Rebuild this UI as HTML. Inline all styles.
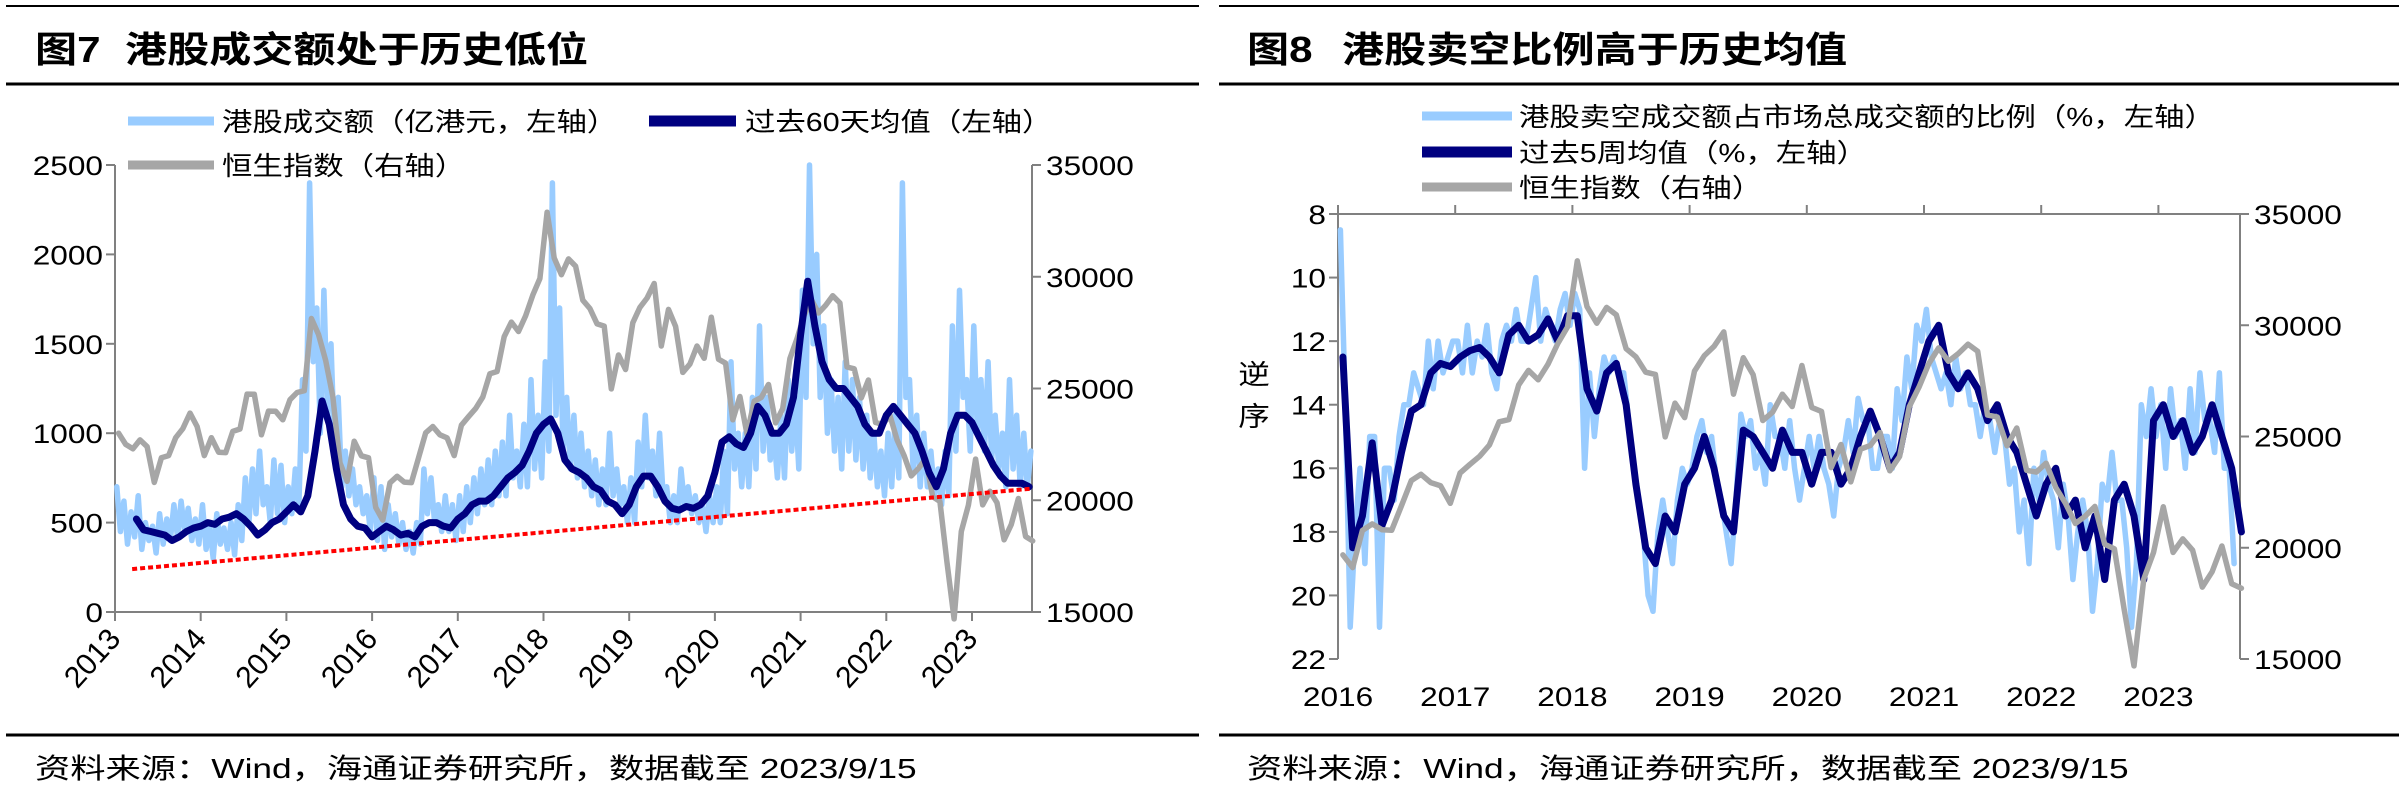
<!DOCTYPE html>
<html><head><meta charset="utf-8">
<style>
html,body{margin:0;padding:0;background:#fff;}
svg{display:block;font-family:"Liberation Sans","Noto Sans CJK SC",sans-serif;}
</style></head>
<body>
<svg id="root" width="2399" height="786" viewBox="0 0 2399 786" xmlns="http://www.w3.org/2000/svg">
  <g id="fig7"></g>
  <g id="fig8"></g>
</svg>
<script>
// ===== Figure 7 data =====
const f7Years = ["2013","2014","2015","2016","2017","2018","2019","2020","2021","2022","2023"];
const f7LeftTicks = [0,500,1000,1500,2000,2500];
const f7RightTicks = [15000,20000,25000,30000,35000];
// Turnover, half-monthly from 2013-01
const turnover = [
700,450,620,380,560,420,650,350,500,400,480,330,550,380,520,400,600,420,620,450,580,400,520,380,
600,350,480,300,550,380,470,350,500,320,600,400,750,500,800,550,900,600,700,500,850,550,820,500,
700,550,800,600,1300,900,2400,1400,1700,1000,1800,1100,1500,900,1200,700,900,650,800,600,700,550,650,450,
750,400,700,350,600,420,550,380,500,350,450,330,500,380,800,550,750,500,600,450,650,450,600,400,
650,450,700,500,750,550,800,600,850,600,900,650,950,650,1100,750,900,700,1050,700,1300,800,1100,750,
1400,900,2400,1100,1700,900,1200,800,1100,750,1000,700,900,650,850,600,800,600,1000,650,800,600,700,500,
750,500,950,700,1100,750,900,650,1000,650,700,500,650,500,800,600,700,550,650,500,600,450,650,500,
700,500,900,550,1400,800,1000,700,1000,700,1200,800,1600,900,1200,850,1000,750,1100,750,1300,900,1200,800,
1800,1200,2500,1500,2000,1200,1600,1000,1300,900,1200,800,1400,900,1300,850,1200,800,1100,750,1000,700,900,650,
1000,700,1100,750,2400,1200,1300,800,1100,700,1000,700,900,650,800,600,900,650,1600,900,1800,1200,1300,900,
1600,1000,1300,900,1400,850,1100,800,1000,700,1300,800,1100,700,1000,700,900];
// 60-day average, monthly from 2013-04
const avg60 = [520,460,450,440,430,400,420,450,470,
480,500,490,520,530,550,520,480,430,460,500,520,
560,600,560,650,900,1180,1050,800,600,520,480,470,
420,450,480,460,430,440,420,480,500,500,480,470,
520,550,600,620,620,650,700,750,780,820,900,1000,
1050,1080,1000,850,800,780,750,700,680,620,600,550,
600,700,760,760,700,620,580,570,590,580,600,650,
780,950,980,940,920,1000,1150,1100,1000,1000,1050,1200,
1550,1850,1600,1400,1300,1250,1250,1200,1150,1050,1000,1000,
1100,1150,1100,1050,1000,900,780,700,800,1000,1100,1100,
1060,980,900,820,760,720,720,720,700];
// Hang Seng index, monthly from 2013-01
const hsi = [23000,22500,22300,22700,22400,20800,21900,22000,22800,23200,23900,23300,
22000,22800,22150,22130,23080,23190,24750,24740,22930,23990,23980,23600,
24500,24820,24900,28130,27420,26250,24640,21670,20850,22640,21990,21900,
19680,19110,20780,21070,20810,20790,21890,23020,23300,22930,22790,22000,
23360,23740,24110,24620,25660,25760,27320,27970,27550,28250,29180,29920,
32890,30840,30090,30800,30470,28950,28580,27890,27790,24980,26500,25850,
27940,28630,29050,29700,26900,28540,27780,25720,26090,26900,26350,28190,
26310,26130,23600,24640,22960,24430,24600,25180,23460,24100,26340,27230,
28280,28980,28380,28720,29150,28830,25960,25880,24580,25380,23480,23400,
23800,22710,21990,21090,21420,21860,20160,19950,17220,14690,18600,19780,
21840,19790,20400,19890,18230,18920,20080,18380,18180];
const trendValues = [240,690];
const trendDates = [2013.2,2023.7];

// ===== Figure 8 data =====
const f8Years = ["2016","2017","2018","2019","2020","2021","2022","2023"];
const f8LeftTicks = [8,10,12,14,16,18,20,22];
const f8RightTicks = [15000,20000,25000,30000,35000];
// Short-selling ratio, half-monthly from 2016-01
const shortRatio = [
8.5,14,21,18,16,19,15,15,21,16,16,17,15,14,14,13,13.5,14,12,13.5,12,13,12.5,12,
12,13,11.5,13,12,12.5,11.5,13,13.5,12,11.5,12,11,12,12,11,10,12,11,11.5,12,11,10.5,11.5,
10.5,11,16,13,15,13.5,12.5,13,12.5,13,13,14.5,16,17,18,20,20.5,18,17,18,19,17,16,16.5,
16,15,14.5,15.5,15,16.5,17,18,19,17,14.3,15,14.5,16,15.5,16.5,14,15,15,16,14.5,16,
17,16,15,16,15,16,16.5,17.5,16,15.5,14.5,15.5,13.8,14.5,14.5,16,16,15,15,16,13.5,14.5,12.5,13.5,
11.5,12,11,12.5,13,13.5,13,14,12.5,13.5,13,14,14,15,14,14.5,15.5,14.5,15,16.5,16,18,17,19,
16,17,15.5,16.5,17,18.5,16.5,17.5,19.5,18,17,18,20.5,19,16.5,17,15.5,17,17,18.5,21,19,14,15,
13.5,15,14,16,13.5,15,14.5,16,13.5,15.5,13,14.5,14.5,15.5,13,16,16,19];
// 5-week average, monthly from 2016-01
const avg5w = [12.5,18.5,17.5,15.2,17.8,17.0,15.5,14.2,14.0,13.0,12.7,12.8,
12.5,12.3,12.2,12.5,13.0,11.8,11.5,12.0,11.8,11.3,12.0,11.2,
11.2,13.5,14.2,13.0,12.7,14.0,16.5,18.5,19.0,17.5,18.0,16.5,
16.0,15.0,16.0,17.5,18.0,14.8,15.0,15.5,16.0,14.8,15.5,15.5,
16.5,15.5,15.5,16.5,16.0,15.0,14.2,15.0,16.0,15.5,14.0,13.0,
12.0,11.5,13.0,13.5,13.0,13.5,14.5,14.0,15.0,15.5,16.5,17.5,
16.5,16.0,17.5,17.0,18.5,17.5,19.5,17.0,16.5,17.5,19.5,14.5,
14.0,15.0,14.5,15.5,15.0,14.0,15.0,16.0,18.0];

const NS="http://www.w3.org/2000/svg";
function mk(parent,tag,attrs){const e=document.createElementNS(NS,tag);for(const k in attrs)e.setAttribute(k,attrs[k]);parent.appendChild(e);return e;}
function txt(parent,x,y,s,size,anchor,extra,sx){
  const t=mk(parent,"text",{transform:`translate(${x},${y}) scale(${sx||1.17},1)`,"font-size":size,"text-anchor":anchor||"start",fill:"#000"});
  if(extra)for(const k in extra)t.setAttribute(k,extra[k]);
  t.textContent=s;return t;}
function poly(parent,pts,color,w){return mk(parent,"polyline",{points:pts.map(p=>p[0].toFixed(1)+","+p[1].toFixed(1)).join(" "),fill:"none",stroke:color,"stroke-width":w,"stroke-linejoin":"round","stroke-linecap":"round"});}

// ===== Figure 7 =====
(function(){
const g=document.getElementById("fig7");
const X0=115,X1=1032,YT=165,YB=612;
const xDate=d=>X0+(d-2013)*85.7;
const yL=v=>YB-(v/2500)*(YB-YT);
const yR=v=>YB-((v-15000)/20000)*(YB-YT);
let e;
e=mk(g,"line",{x1:6,y1:6,x2:1199,y2:6,stroke:"#000","stroke-width":2});

e=txt(g,35,62,"图7",36,"start",{"font-weight":"bold"});

e=txt(g,125,62,"港股成交额处于历史低位",36,"start",{"font-weight":"bold"});

e=mk(g,"line",{x1:6,y1:84,x2:1199,y2:84,stroke:"#000","stroke-width":3});

e=mk(g,"line",{x1:X0,y1:YT,x2:X0,y2:YB,stroke:"#808080","stroke-width":2});

e=mk(g,"line",{x1:X1,y1:YT,x2:X1,y2:YB,stroke:"#808080","stroke-width":2});

e=mk(g,"line",{x1:X0,y1:YB,x2:X1,y2:YB,stroke:"#808080","stroke-width":2});

f7LeftTicks.forEach(v=>{
  e=mk(g,"line",{x1:X0-9,y1:yL(v),x2:X0,y2:yL(v),stroke:"#808080","stroke-width":2});
  
  e=txt(g,X0-12,yL(v)+10,String(v),27,"end");
  
});
f7RightTicks.forEach(v=>{
  e=mk(g,"line",{x1:X1,y1:yR(v),x2:X1+9,y2:yR(v),stroke:"#808080","stroke-width":2});
  
  e=txt(g,X1+14,yR(v)+10,String(v),27,"start");
  
});
f7Years.forEach((y,i)=>{
  const x=xDate(2013+i);
  e=mk(g,"line",{x1:x,y1:YB,x2:x,y2:YB+9,stroke:"#808080","stroke-width":2});
  
  e=mk(g,"text",{transform:`translate(${x+7},${YB+28}) rotate(-48)`,"font-size":30,"text-anchor":"end"});
  e.textContent=y;
  
});
e=poly(g,turnover.map((v,i)=>[xDate(2013+(i+0.5)/24),yL(Math.min(v,2500))]),"#99CCFF",5.5);

e=poly(g,hsi.map((v,i)=>[xDate(2013+(i+0.5)/12),yR(v)]),"#A6A6A6",5.5);

e=poly(g,avg60.map((v,i)=>[xDate(2013.25+i/12),yL(v)]),"#000080",7);

e=mk(g,"line",{x1:xDate(trendDates[0]),y1:yL(trendValues[0]),x2:xDate(trendDates[1]),y2:yL(trendValues[1]),stroke:"#FF0000","stroke-width":4,"stroke-dasharray":"5 3"});

const lg=mk(g,"g",{});

e=mk(lg,"line",{x1:128,y1:121,x2:214,y2:121,stroke:"#99CCFF","stroke-width":9});

e=txt(lg,222,131,"港股成交额（亿港元，左轴）",26);

e=mk(lg,"line",{x1:649,y1:121,x2:736,y2:121,stroke:"#000080","stroke-width":11});

e=txt(lg,745,131,"过去60天均值（左轴）",26);

e=mk(lg,"line",{x1:128,y1:165,x2:214,y2:165,stroke:"#A6A6A6","stroke-width":9});

e=txt(lg,222,175,"恒生指数（右轴）",26);

e=mk(g,"line",{x1:6,y1:735,x2:1199,y2:735,stroke:"#000","stroke-width":3});

e=txt(g,35,778,"资料来源：Wind，海通证券研究所，数据截至 2023/9/15",28,"start",null,1.26);

})();

// ===== Figure 8 =====
(function(){
const g=document.getElementById("fig8");
const X0=1338,X1=2240,YT=214,YB=659;
const xDate=d=>X0+(d-2016)*117.2;
const yL=v=>YT+((v-8)/14)*(YB-YT);
const yR=v=>YB-((v-15000)/20000)*(YB-YT);
let e;
e=mk(g,"line",{x1:1219,y1:6,x2:2399,y2:6,stroke:"#000","stroke-width":2});

e=txt(g,1247,62,"图8",36,"start",{"font-weight":"bold"});

e=txt(g,1342,62,"港股卖空比例高于历史均值",36,"start",{"font-weight":"bold"});

e=mk(g,"line",{x1:1219,y1:84,x2:2399,y2:84,stroke:"#000","stroke-width":3});

e=mk(g,"line",{x1:X0,y1:YT,x2:X0,y2:YB,stroke:"#808080","stroke-width":2});

e=mk(g,"line",{x1:X1,y1:YT,x2:X1,y2:YB,stroke:"#808080","stroke-width":2});

e=mk(g,"line",{x1:X0,y1:YT,x2:X1,y2:YT,stroke:"#808080","stroke-width":2});

f8LeftTicks.forEach(v=>{
  e=mk(g,"line",{x1:X0-9,y1:yL(v),x2:X0,y2:yL(v),stroke:"#808080","stroke-width":2});
  
  e=txt(g,X0-12,yL(v)+10,String(v),27,"end");
  
});
f8RightTicks.forEach(v=>{
  e=mk(g,"line",{x1:X1,y1:yR(v),x2:X1+9,y2:yR(v),stroke:"#808080","stroke-width":2});
  
  e=txt(g,X1+14,yR(v)+10,String(v),27,"start");
  
});
f8Years.forEach((y,i)=>{
  const x=xDate(2016+i);
  e=mk(g,"line",{x1:x,y1:YT-9,x2:x,y2:YT,stroke:"#808080","stroke-width":2});
  
  e=txt(g,x,706,y,27,"middle");
  
});
e=txt(g,1254,384,"逆",27,"middle");

e=txt(g,1254,426,"序",27,"middle");

e=poly(g,shortRatio.map((v,i)=>[xDate(2016+(i+0.5)/24),yL(v)]),"#99CCFF",5.5);

e=poly(g,avg5w.map((v,i)=>[xDate(2016+(i+0.5)/12),yL(v)]),"#000080",7);

const hsi8=hsi.slice(36);
e=poly(g,hsi8.map((v,i)=>[xDate(2016+(i+0.5)/12),yR(v)]),"#A6A6A6",5.5);

const lg=mk(g,"g",{});

e=mk(lg,"line",{x1:1422,y1:116,x2:1512,y2:116,stroke:"#99CCFF","stroke-width":9});

e=txt(lg,1519,126,"港股卖空成交额占市场总成交额的比例（%，左轴）",26);

e=mk(lg,"line",{x1:1422,y1:152,x2:1512,y2:152,stroke:"#000080","stroke-width":11});

e=txt(lg,1519,162,"过去5周均值（%，左轴）",26);

e=mk(lg,"line",{x1:1422,y1:187,x2:1512,y2:187,stroke:"#A6A6A6","stroke-width":9});

e=txt(lg,1519,197,"恒生指数（右轴）",26);

e=mk(g,"line",{x1:1219,y1:735,x2:2399,y2:735,stroke:"#000","stroke-width":3});

e=txt(g,1247,778,"资料来源：Wind，海通证券研究所，数据截至 2023/9/15",28,"start",null,1.26);

})();
</script>
</body></html>
